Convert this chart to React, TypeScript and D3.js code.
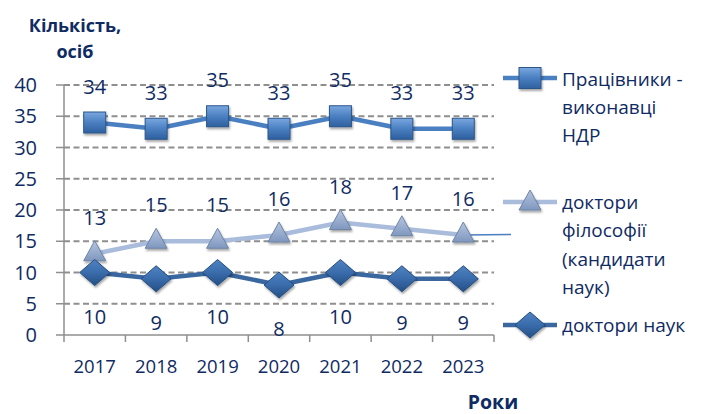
import React from 'react';
import * as d3 from 'd3';

const years = ['2017', '2018', '2019', '2020', '2021', '2022', '2023'];
const workers = [34, 33, 35, 33, 35, 33, 33];
const phd = [13, 15, 15, 16, 18, 17, 16];
const doctors = [10, 9, 10, 8, 10, 9, 9];
const yTicks = [0, 5, 10, 15, 20, 25, 30, 35, 40];

const W = 701;
const H = 414;
const left = 64;
const right = 494;
const top = 85;
const bottom = 335;
const textColor = '#0f2b63';
const gridColor = '#8f8f8f';
const font = "'Open Sans', sans-serif";

const x = d3.scaleBand<string>().domain(years).range([left, right]);
const y = d3.scaleLinear().domain([0, 40]).range([bottom, top]);
const cx = (d: string) => (x(d) ?? 0) + x.bandwidth() / 2;

const line = d3.line<number>()
  .x((_, i) => cx(years[i]))
  .y(d => y(d));

const Square = ({ px, py }: { px: number; py: number }) => (
  <rect x={px - 11} y={py - 10.5} width={22} height={21} fill="url(#gSq)" stroke="#2c5689" strokeWidth={1} filter="url(#shadow)" />
);
const Triangle = ({ px, py }: { px: number; py: number }) => (
  <path d={`M${px},${py - 13} L${px + 11},${py + 7} L${px - 11},${py + 7} Z`} fill="url(#gTri)" stroke="#6f84a6" strokeWidth={1} filter="url(#shadow)" />
);
const Diamond = ({ px, py }: { px: number; py: number }) => (
  <path d={`M${px},${py - 13} L${px + 15},${py} L${px},${py + 13} L${px - 15},${py} Z`} fill="url(#gDia)" stroke="#244d80" strokeWidth={1} filter="url(#shadow)" />
);

export default function App() {
  return (
    <svg width={W} height={H} style={{ position: 'absolute', left: 0, top: 0 }} fontFamily={font}>
      <defs>
        <linearGradient id="gSq" x1="0" y1="0" x2="0" y2="1">
          <stop offset="0" stopColor="#7aa7e0" />
          <stop offset="0.5" stopColor="#4a7fc1" />
          <stop offset="1" stopColor="#2f609f" />
        </linearGradient>
        <linearGradient id="gTri" x1="0" y1="0" x2="0" y2="1">
          <stop offset="0" stopColor="#b6c6e0" />
          <stop offset="1" stopColor="#7f97bf" />
        </linearGradient>
        <linearGradient id="gDia" x1="0" y1="0" x2="0" y2="1">
          <stop offset="0" stopColor="#4f82c2" />
          <stop offset="0.5" stopColor="#3a6cab" />
          <stop offset="1" stopColor="#244f86" />
        </linearGradient>
        <filter id="shadow" x="-50%" y="-50%" width="200%" height="200%">
          <feDropShadow dx="1" dy="2" stdDeviation="1.2" floodColor="#000" floodOpacity="0.35" />
        </filter>
      </defs>

      {/* gridlines */}
      {yTicks.filter(t => t > 0).map(t => (
        <line key={t} x1={left} x2={right} y1={y(t)} y2={y(t)} stroke={gridColor} strokeWidth={2} strokeDasharray="6,3.5" />
      ))}

      {/* axes */}
      <line x1={left} x2={left} y1={top} y2={bottom} stroke={gridColor} strokeWidth={1.5} />
      <line x1={left} x2={right} y1={bottom} y2={bottom} stroke={gridColor} strokeWidth={1.5} />
      {yTicks.map(t => (
        <g key={t}>
          <line x1={left - 8} x2={left} y1={y(t)} y2={y(t)} stroke={gridColor} strokeWidth={1.5} />
          <text x={37} y={y(t)} dy="0.35em" textAnchor="end" fontSize={20} fill={textColor}>{t}</text>
        </g>
      ))}
      {years.map(yr => (
        <g key={yr}>
          <line x1={x(yr)} x2={x(yr)} y1={bottom} y2={bottom + 7} stroke={gridColor} strokeWidth={1.5} />
          <text x={cx(yr)} y={373} textAnchor="middle" fontSize={18.5} fill={textColor}>{yr}</text>
        </g>
      ))}
      <line x1={right} x2={right} y1={bottom} y2={bottom + 7} stroke={gridColor} strokeWidth={1.5} />

      {/* series lines */}
      <path d={line(phd) ?? ''} fill="none" stroke="#a9bcdc" strokeWidth={4.5} strokeLinejoin="round" />
      <path d={line(workers) ?? ''} fill="none" stroke="#4a7fc1" strokeWidth={4.5} strokeLinejoin="round" />
      <path d={line(doctors) ?? ''} fill="none" stroke="#3a679f" strokeWidth={4.5} strokeLinejoin="round" />
      <line x1={cx('2023')} x2={511} y1={y(16)} y2={y(16) - 0.5} stroke="#4a7fc1" strokeWidth={1.5} />

      {/* markers */}
      {phd.map((v, i) => <Triangle key={i} px={cx(years[i])} py={y(v)} />)}
      {workers.map((v, i) => <Square key={i} px={cx(years[i])} py={y(v)} />)}
      {doctors.map((v, i) => <Diamond key={i} px={cx(years[i])} py={y(v)} />)}

      {/* data labels */}
      {workers.map((v, i) => (
        <text key={i} x={cx(years[i])} y={y(v) - 36} dy="0.35em" textAnchor="middle" fontSize={20} fill={textColor}>{v}</text>
      ))}
      {phd.map((v, i) => (
        <text key={i} x={cx(years[i])} y={y(v) - 36} dy="0.35em" textAnchor="middle" fontSize={20} fill={textColor}>{v}</text>
      ))}
      {doctors.map((v, i) => (
        <text key={i} x={cx(years[i])} y={y(v) + 44} dy="0.35em" textAnchor="middle" fontSize={20} fill={textColor}>{v}</text>
      ))}

      {/* titles */}
      <text x={75} y={32} textAnchor="middle" fontSize={18} fontWeight="bold" fill={textColor}>Кількість,</text>
      <text x={75} y={58} textAnchor="middle" fontSize={18} fontWeight="bold" fill={textColor}>осіб</text>
      <text x={493} y={409} textAnchor="middle" fontSize={19.5} fontWeight="bold" fill={textColor}>Роки</text>

      {/* legend */}
      <line x1={503} x2={557} y1={78} y2={78} stroke="#4a7fc1" strokeWidth={4.5} />
      <Square px={530} py={78} />
      {['Працівники -', 'виконавці', 'НДР'].map((s, i) => (
        <text key={s} x={562} y={86 + i * 28} fontSize={19} fill={textColor}>{s}</text>
      ))}
      <line x1={503} x2={557} y1={202} y2={202} stroke="#a9bcdc" strokeWidth={4.5} />
      <Triangle px={530} py={203} />
      {['доктори', 'філософії', '(кандидати', 'наук)'].map((s, i) => (
        <text key={s} x={562} y={209 + i * 28.3} fontSize={19} fill={textColor}>{s}</text>
      ))}
      <line x1={503} x2={557} y1={325} y2={325} stroke="#3a679f" strokeWidth={4.5} />
      <Diamond px={530} py={325} />
      <text x={562} y={332} fontSize={19} fill={textColor}>доктори наук</text>
    </svg>
  );
}
